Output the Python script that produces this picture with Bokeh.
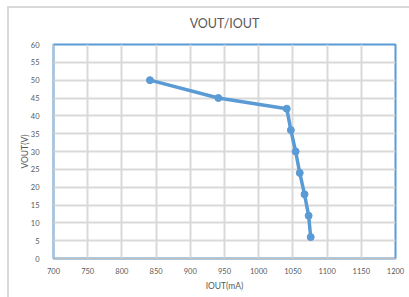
from bokeh.plotting import figure
from bokeh.models import Range1d, FixedTicker, Title
from bokeh.embed import file_html
from bokeh.resources import INLINE

iout_ma = [841, 941, 1041, 1047, 1054, 1060, 1067, 1073, 1076]
vout_v = [50, 45, 42, 36, 30, 24, 18, 12, 6]
x_ticks = [700, 750, 800, 850, 900, 950, 1000, 1050, 1100, 1150, 1200]
y_ticks = [0, 5, 10, 15, 20, 25, 30, 35, 40, 45, 50, 55, 60]
title_text = "VOUT/IOUT"

FONT = "Lato"
GRAY = "#595959"
BLUE = "#5B9BD5"

p = figure(width=402, height=291, frame_width=342, frame_height=214,
           output_backend="svg", toolbar_location=None,
           x_range=Range1d(700, 1200), y_range=Range1d(0, 60),
           title=None, min_border_left=44, min_border_right=16,
           min_border_top=35, min_border_bottom=42)
p.margin = (6, 0, 0, 7)
p.styles = {"border-top": "2px solid #D9D9D9", "border-left": "2px solid #D9D9D9"}

spacer = Title(text=" ", text_font_size="2px", align="center", standoff=5)
p.add_layout(spacer, "above")
main_title = Title(text=title_text, align="center", text_font=FONT,
                   text_font_size="12.5px", text_font_style="normal",
                   text_color=GRAY)
p.add_layout(main_title, "above")

p.outline_line_color = BLUE
p.outline_line_width = 2
p.background_fill_color = "white"
p.border_fill_color = "white"

p.xaxis.ticker = FixedTicker(ticks=x_ticks)
p.yaxis.ticker = FixedTicker(ticks=y_ticks)
for ax in (p.xaxis[0], p.yaxis[0]):
    ax.major_tick_line_color = None
    ax.minor_tick_line_color = None
    ax.axis_line_color = "#BFBFBF"
    ax.axis_line_width = 1.5
    ax.major_label_text_font = FONT
    ax.major_label_text_font_size = "7.5px"
    ax.major_label_text_color = GRAY
    ax.axis_label_text_font = FONT
    ax.axis_label_text_font_size = "8.5px"
    ax.axis_label_text_font_style = "normal"
    ax.axis_label_text_color = GRAY
p.xaxis.axis_label = "IOUT(mA)"
p.yaxis.axis_label = "VOUT(V)"
p.xaxis.major_label_standoff = 3
p.yaxis.major_label_standoff = 8
p.xaxis.axis_label_standoff = 4
p.yaxis.axis_label_standoff = -2

p.xgrid.grid_line_color = "#D9D9D9"
p.ygrid.grid_line_color = "#D9D9D9"
p.xgrid.grid_line_width = 2
p.ygrid.grid_line_width = 2

p.line(iout_ma, vout_v, line_color=BLUE, line_width=3.5)
p.scatter(iout_ma, vout_v, size=7, fill_color=BLUE, line_color=BLUE)

open("out.html", "w").write(file_html(p, INLINE))
